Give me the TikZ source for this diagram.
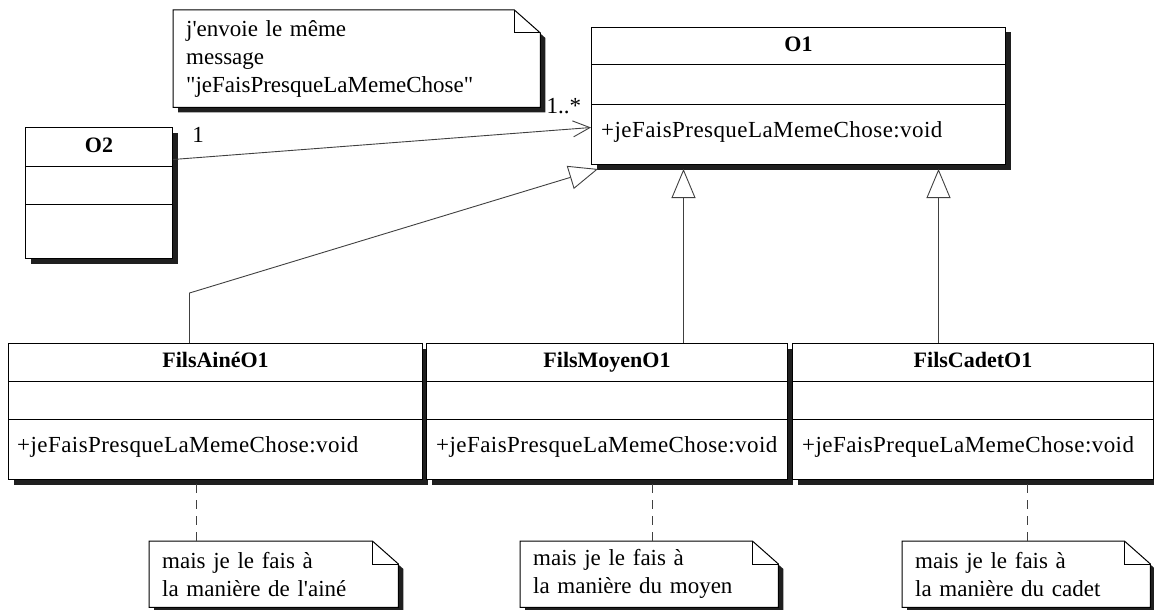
\documentclass[tikz,border=0pt]{standalone}
\usepackage{fontspec}
\setmainfont{Liberation Serif}
\newfontfamily\opfont{Liberation Serif}[LetterSpace=1.9]
\usetikzlibrary{arrows.meta,positioning,calc,backgrounds,shadows}
\tikzset{
  umlclass/.style={rectangle, draw=black, line width=1pt, fill=white, anchor=north west,
    inner sep=0pt, drop shadow={shadow xshift=5pt, shadow yshift=-5pt, fill=black!88, opacity=1}},
  ctitle/.style={font=\fontsize{22}{28}\selectfont\bfseries, inner sep=0pt,
    text height=16pt, text depth=5pt},
  cop/.style={font=\fontsize{23}{28}\selectfont\opfont, anchor=west, inner sep=0pt,
    text height=16pt, text depth=5pt},
  notebox/.style={anchor=north west, inner xsep=13pt, inner ysep=0pt, align=left},
  notefill/.style={draw=black, line width=1pt, fill=white},
  mult/.style={inner sep=0pt},
  assoc/.style={-{Straight Barb[length=17pt,width=16pt]}, line width=0.9pt, draw=black!75},
  gen/.style={-{Triangle[open,length=29pt,width=24pt]}, line width=0.9pt, draw=black!75},
  anchorline/.style={line width=0.9pt, draw=black!75, dash pattern=on 9pt off 7pt},
}
\begin{document}
\begin{tikzpicture}[x=1pt, y=-1pt, font=\fontsize{23}{28}\selectfont]
  \useasboundingbox (0,0) rectangle (1154,610);
  % classes
  \node[umlclass, minimum width=414pt, minimum height=137pt] (o1) at (591,27) {};
  \node[umlclass, minimum width=147pt, minimum height=131pt] (o2) at (25,127) {};
  \node[umlclass, minimum width=414pt, minimum height=136pt] (fa) at (8,343) {};
  \node[umlclass, minimum width=361pt, minimum height=136pt] (fm) at (426,343) {};
  \node[umlclass, minimum width=361pt, minimum height=136pt] (fc) at (792,343) {};
  \foreach \c/\a/\b in {o1/38/77, o2/39/77, fa/38/76, fm/38/76, fc/38/76} {
    \draw[line width=1pt] ([yshift=-\a pt]\c.north west) -- ([yshift=-\a pt]\c.north east);
    \draw[line width=1pt] ([yshift=-\b pt]\c.north west) -- ([yshift=-\b pt]\c.north east);
  }
  \node[ctitle] (o1t) at ($(o1.north)+(0,19)$) {O1};
  \node[ctitle] (o2t) at ($(o2.north)+(0,19.5)$) {O2};
  \node[ctitle] (fat) at ($(fa.north)+(0,19)$) {FilsAinéO1};
  \node[ctitle] (fmt) at ($(fm.north)+(0,19)$) {FilsMoyenO1};
  \node[ctitle] (fct) at ($(fc.north)+(0,19)$) {FilsCadetO1};
  \node[cop] (o1op) at ($(o1.north west)+(10,105)$) {+jeFaisPresqueLaMemeChose:void};
  \node[cop] (faop) at ($(fa.north west)+(9,104)$) {+jeFaisPresqueLaMemeChose:void};
  \node[cop] (fmop) at ($(fm.north west)+(10,104)$) {+jeFaisPresqueLaMemeChose:void};
  \node[cop] (fcop) at ($(fc.north west)+(10,104)$) {+jeFaisPrequeLaMemeChose:void};
  % notes
  \node[notebox, text width=341pt, minimum height=97pt] (msg) at (173,10)
    {j\textquotesingle envoie le même\\message\\\textquotedbl jeFaisPresqueLaMemeChose\textquotedbl};
  \node[notebox, text width=223pt, minimum height=66pt] (na) at (149,541)
    {mais je le fais à\\la manière de l\textquotesingle ainé};
  \node[notebox, text width=232pt, minimum height=66pt] (nm) at (520,541)
    {mais je le fais à\\la manière du moyen};
  \node[notebox, text width=222pt, minimum height=66pt] (nc) at (902,541)
    {mais je le fais à\\la manière du cadet};
  \begin{scope}[on background layer]
    \foreach \n in {msg,na,nm,nc} {
      \fill[black!88] ([xshift=5pt,yshift=-5pt]\n.north west) -- ([xshift=-21pt,yshift=-5pt]\n.north east)
        -- ([xshift=5pt,yshift=-28pt]\n.north east) -- ([xshift=5pt,yshift=-5pt]\n.south east)
        -- ([xshift=5pt,yshift=-5pt]\n.south west) -- cycle;
      \draw[notefill] (\n.north west) -- ([xshift=-26pt]\n.north east) -- ([yshift=-23pt]\n.north east)
        -- (\n.south east) -- (\n.south west) -- cycle;
      \draw[line width=1pt] ([xshift=-26pt]\n.north east) |- ([yshift=-23pt]\n.north east);
    }
  \end{scope}
  % association
  \draw[assoc] ([yshift=33.5pt]o2.east)
    -- node[mult, pos=0.06, above=15pt] (m1) {1}
       node[mult, pos=0.935, above=15pt] (m2) {1..*} ([yshift=-31.5pt]o1.west);
  % generalisations
  \coordinate (o1tip) at ([yshift=-4pt]o1.south);
  \coordinate (fatop) at ([xshift=-26pt]fa.north);
  \coordinate (fabend) at ([yshift=50pt]fatop);
  \coordinate (fmtop) at ([xshift=76.5pt]fm.north);
  \coordinate (fctop) at ([xshift=-34.5pt]fc.north);
  \draw[gen] (fatop) -- (fabend) -- ([xshift=7pt,yshift=-4pt]o1.south west);
  \draw[gen] (fmtop) -- (fmtop |- o1tip);
  \draw[gen] (fctop) -- (fctop |- o1tip);
  % note links
  \coordinate (fabot) at ([xshift=-19pt,yshift=-4pt]fa.south);
  \coordinate (fmbot) at ([xshift=45.5pt,yshift=-4pt]fm.south);
  \coordinate (fcbot) at ([xshift=54.5pt,yshift=-4pt]fc.south);
  \draw[anchorline] (fabot) -- (fabot |- na.north);
  \draw[anchorline] (fmbot) -- (fmbot |- nm.north);
  \draw[anchorline] (fcbot) -- (fcbot |- nc.north);
\end{tikzpicture}
\end{document}
